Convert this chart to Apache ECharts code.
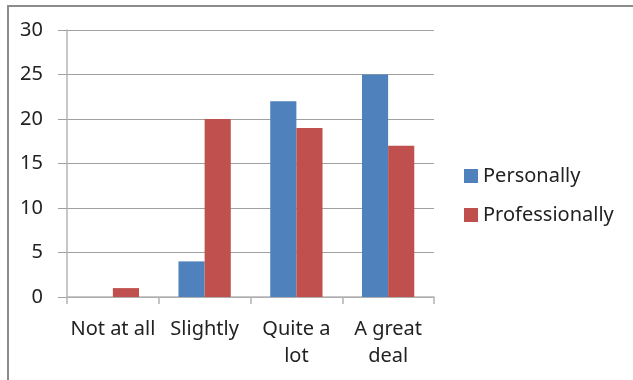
<!DOCTYPE html>
<html>
<head>
<meta charset="utf-8">
<script src="https://cdn.jsdelivr.net/npm/echarts@6/dist/echarts.min.js"></script>
<style>
    html, body { margin: 0; padding: 0; background: #fff; }
    #frame {
        position: absolute; left: 7px; top: 5px; width: 640px; height: 390px;
        border-top: 2px solid #8c8c8c; border-left: 2px solid #8c8c8c;
    }
    #chart { position: absolute; left: 0; top: 0; width: 633px; height: 380px; }
</style>
</head>
<body>
<div id="frame"></div>
<div id="chart"></div>
<script>
const categories = ['Not at all', 'Slightly', 'Quite a\nlot', 'A great\ndeal'];
const personally = [0, 4, 22, 25];
const professionally = [1, 20, 19, 17];
const yTicks = [0, 5, 10, 15, 20, 25, 30];

const font = '"Noto Sans", "Open Sans", sans-serif';

const myChart = echarts.init(document.getElementById('chart'));
const option = {
    animation: false,
    grid: { left: 67, top: 30, right: 199, bottom: 83 },
    legend: {
        orient: 'vertical',
        left: 464,
        top: 166,
        padding: 0,
        itemWidth: 14,
        itemHeight: 14,
        itemGap: 19,
        icon: 'rect',
        textStyle: { fontFamily: font, fontSize: 20, color: '#222', lineHeight: 20 },
        data: ['Personally', 'Professionally']
    },
    xAxis: {
        type: 'category',
        data: categories,
        axisLine: { lineStyle: { color: '#b4b4b4', width: 1.5 } },
        axisTick: { show: true, length: 7, lineStyle: { color: '#b4b4b4', width: 1.5 } },
        axisLabel: {
            margin: 19,
            interval: 0,
            fontFamily: font,
            fontSize: 20,
            lineHeight: 27,
            color: '#222'
        }
    },
    yAxis: {
        type: 'value',
        min: yTicks[0],
        max: yTicks[yTicks.length - 1],
        interval: 5,
        axisLine: { show: true, lineStyle: { color: '#b4b4b4', width: 1.5 } },
        axisTick: { show: true, length: 9, lineStyle: { color: '#a0a0a0' } },
        splitLine: { lineStyle: { color: '#a0a0a0', width: 1 } },
        axisLabel: { margin: 24, fontFamily: font, fontSize: 20, color: '#222' }
    },
    series: [
        {
            name: 'Personally',
            type: 'bar',
            data: personally,
            barGap: '0%',
            barCategoryGap: '43%',
            itemStyle: { color: '#4F81BD' }
        },
        {
            name: 'Professionally',
            type: 'bar',
            data: professionally,
            itemStyle: { color: '#C0504D' }
        }
    ]
};
myChart.setOption(option);
</script>
</body>
</html>
